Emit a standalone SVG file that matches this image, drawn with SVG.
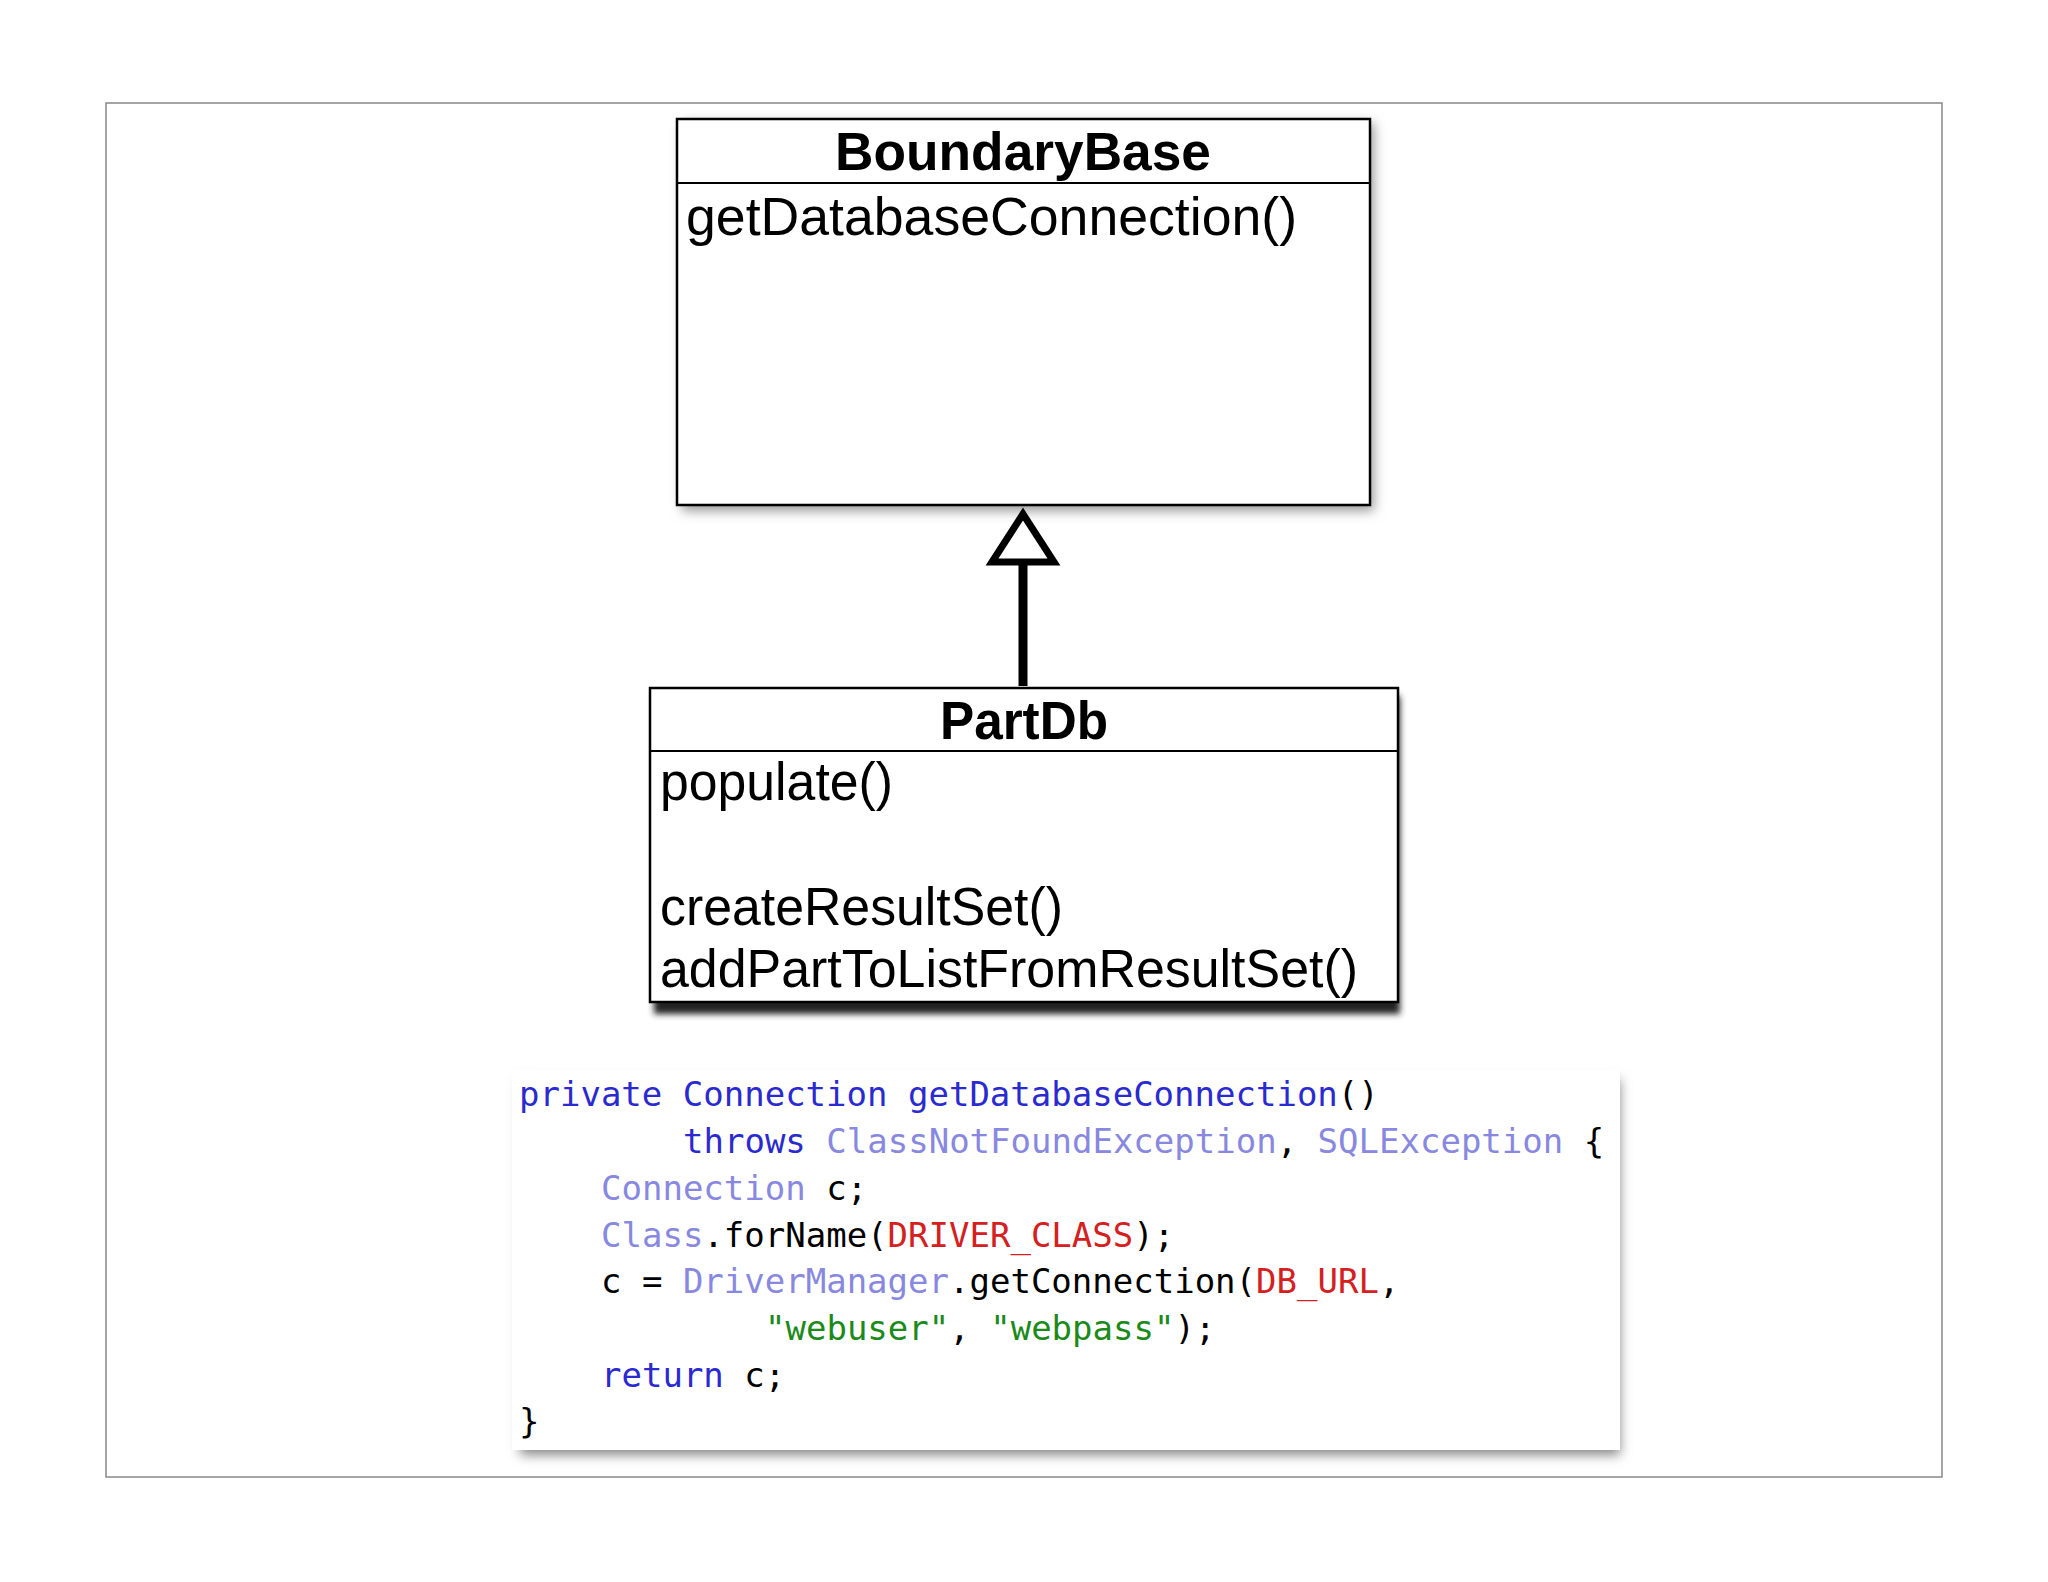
<svg xmlns="http://www.w3.org/2000/svg" width="2048" height="1582" viewBox="0 0 2048 1582">
<defs>
<style>
.box{fill:#fff;stroke:#000;stroke-width:2.5}
.t{font-family:"Liberation Sans",Arial,sans-serif;font-size:54px;fill:#000}
.b{font-weight:bold}
.c{font-family:"DejaVu Sans Mono",monospace;font-size:34px;fill:#000}
.k{fill:#2a2ad0}
.ty{fill:#8888e0}
.r{fill:#d42020}
.g{fill:#1a8a1a}
</style>
<filter id="sh" x="-10%" y="-10%" width="120%" height="130%"><feGaussianBlur stdDeviation="6"/></filter>
<filter id="sh2" x="-10%" y="-10%" width="120%" height="130%"><feGaussianBlur stdDeviation="3"/></filter>
</defs>
<rect width="2048" height="1582" fill="#fff"/>
<rect x="106" y="103" width="1836" height="1374" fill="none" stroke="#888" stroke-width="1.5"/>
<g id="BoundaryBase">
<rect x="682" y="123" width="692" height="388" fill="#999" filter="url(#sh)"/>
<rect class="box" x="677" y="119" width="693" height="386"/>
<line x1="677" y1="183" x2="1370" y2="183" stroke="#000" stroke-width="2"/>
<text class="t b" x="1023" y="170" text-anchor="middle" textLength="376" lengthAdjust="spacingAndGlyphs">BoundaryBase</text>
<text class="t" x="686" y="235" textLength="611" lengthAdjust="spacingAndGlyphs">getDatabaseConnection()</text>
</g>
<g id="PartDb">
<rect x="654" y="696" width="746" height="318" fill="#222" filter="url(#sh2)"/>
<rect class="box" x="650" y="688" width="748" height="314"/>
<line x1="650" y1="751" x2="1398" y2="751" stroke="#000" stroke-width="2"/>
<text class="t b" x="1024" y="739" text-anchor="middle" textLength="168" lengthAdjust="spacingAndGlyphs">PartDb</text>
<text class="t" x="660" y="800" textLength="233" lengthAdjust="spacingAndGlyphs">populate()</text>
<text class="t" x="660" y="925" textLength="403" lengthAdjust="spacingAndGlyphs">createResultSet()</text>
<text class="t" x="660" y="987" textLength="698" lengthAdjust="spacingAndGlyphs">addPartToListFromResultSet()</text>
</g>
<g id="connectors">
<line x1="1023" y1="686" x2="1023" y2="562" stroke="#000" stroke-width="9"/>
<polygon points="1023,514 992,562 1054,562" fill="#fff" stroke="#000" stroke-width="7" stroke-linejoin="miter"/>
</g>
<g id="code">
<rect x="520" y="1080" width="1100" height="375" fill="#888" filter="url(#sh)"/>
<rect x="512" y="1070" width="1108" height="380" fill="#fff"/>
<text class="c" x="519" y="1106"><tspan class="k">private</tspan> <tspan class="k">Connection</tspan> <tspan class="k">getDatabaseConnection</tspan>()</text>
<text class="c" x="683" y="1153"><tspan class="k">throws</tspan> <tspan class="ty">ClassNotFoundException</tspan>, <tspan class="ty">SQLException</tspan> {</text>
<text class="c" x="601" y="1200"><tspan class="ty">Connection</tspan> c;</text>
<text class="c" x="601" y="1247"><tspan class="ty">Class</tspan>.forName(<tspan class="r">DRIVER_CLASS</tspan>);</text>
<text class="c" x="601" y="1293">c = <tspan class="ty">DriverManager</tspan>.getConnection(<tspan class="r">DB_URL</tspan>,</text>
<text class="c" x="765" y="1340"><tspan class="g">"webuser"</tspan>, <tspan class="g">"webpass"</tspan>);</text>
<text class="c" x="601" y="1387"><tspan class="k">return</tspan> c;</text>
<text class="c" x="519" y="1433">}</text>
</g>
</svg>
